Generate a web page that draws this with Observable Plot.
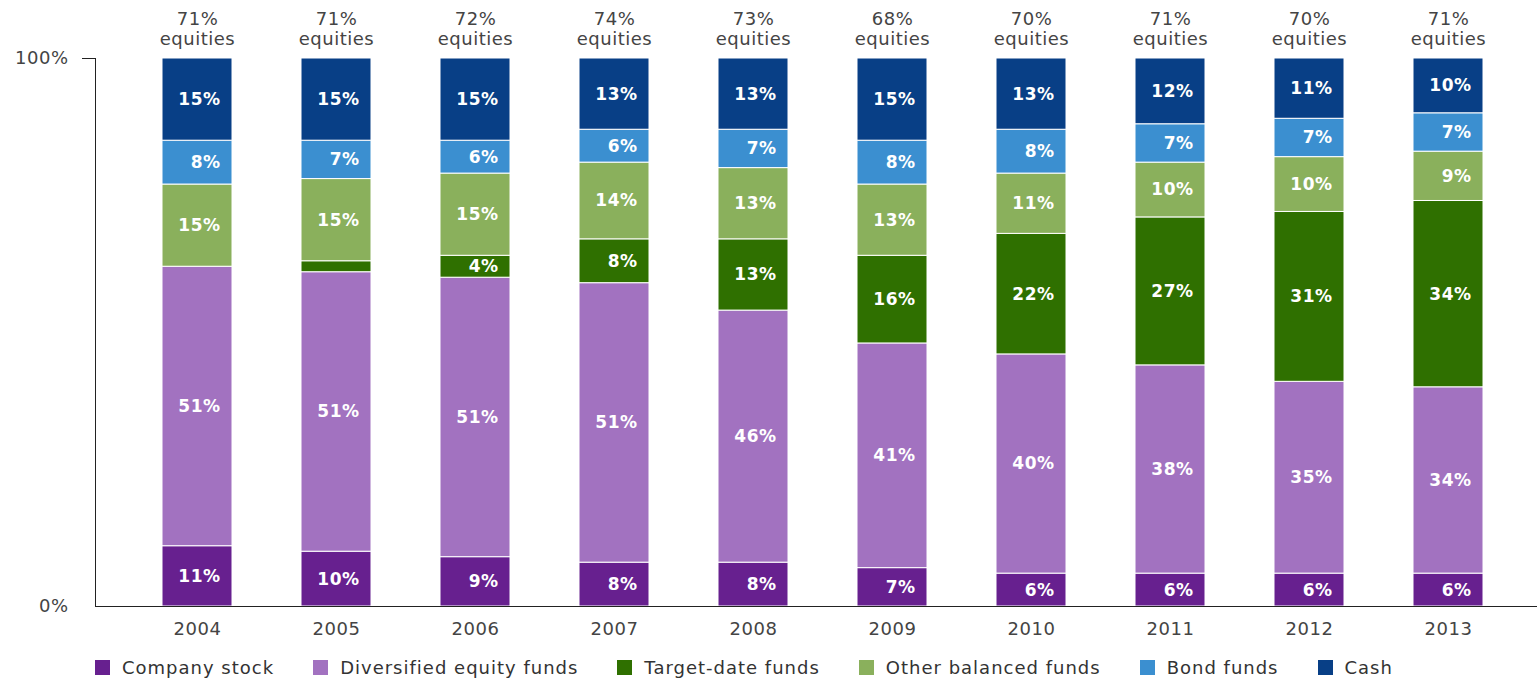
<!DOCTYPE html>
<html>
<head>
<meta charset="utf-8">
<script src="https://cdn.jsdelivr.net/npm/d3@7"></script>
<script src="https://cdn.jsdelivr.net/npm/@observablehq/plot@0.6"></script>
<style>
  html, body { margin: 0; padding: 0; background: #fff; }
  body { width: 1537px; height: 678px; overflow: hidden; font-family: "DejaVu Sans", sans-serif; }
  #chart svg text { letter-spacing: 0.5px; }
  #legend { display: flex; align-items: center; margin-left: 95px; margin-top: 4px; height: 30px; gap: 39px; font-size: 18px; letter-spacing: 1px; color: #333; }
  #legend .item { display: flex; align-items: center; white-space: nowrap; }
  #legend .sw { width: 15px; height: 15px; margin-right: 12px; display: inline-block; }
</style>
</head>
<body>
<div id="chart"></div>
<div id="legend"></div>
<script>
const years = ["2004","2005","2006","2007","2008","2009","2010","2011","2012","2013"];
const categories = ["Company stock", "Diversified equity funds", "Target-date funds", "Other balanced funds", "Bond funds", "Cash"];
const colors = ["#67208f", "#a272c0", "#2f7000", "#8ab05c", "#3b8fd0", "#083f86"];
const companyStock  = [11, 10,  9,  8,  8,  7,  6,  6,  6,  6];
const diversified   = [51, 51, 51, 51, 46, 41, 40, 38, 35, 34];
const targetDate    = [ 0,  2,  4,  8, 13, 16, 22, 27, 31, 34];
const otherBalanced = [15, 15, 15, 14, 13, 13, 11, 10, 10,  9];
const bondFunds     = [ 8,  7,  6,  6,  7,  8,  8,  7,  7,  7];
const cash          = [15, 15, 15, 13, 13, 15, 13, 12, 11, 10];
const equities      = [71, 71, 72, 74, 73, 68, 70, 71, 70, 71];

const series = [companyStock, diversified, targetDate, otherBalanced, bondFunds, cash];
const data = [];
years.forEach((year, i) => {
  categories.forEach((cat, j) => {
    data.push({year, cat, value: series[j][i]});
  });
});
const tops = years.map((year, i) => ({year, label: `${equities[i]}%\nequities`}));

const chart = Plot.plot({
  width: 1537,
  height: 648,
  marginLeft: 95,
  marginRight: 0,
  marginTop: 58,
  marginBottom: 42,
  style: {fontFamily: "DejaVu Sans", fontSize: "18px", color: "#444", background: "#fff"},
  x: {domain: years, range: [126, 1518], paddingInner: 0.497, paddingOuter: 0.2485, label: null},
  y: {domain: [0, 100], label: null},
  color: {domain: categories, range: colors},
  marks: [
    Plot.barY(data, Plot.stackY({x: "year", y: "value", z: "cat", fill: "cat", stroke: "#fff", strokeWidth: 1})),
    Plot.text(data, Plot.stackY({
      x: "year", y: "value", z: "cat",
      text: d => d.value >= 3 ? `${d.value}%` : "",
      fill: "#fff", fontWeight: "bold", fontSize: 17, textAnchor: "end", dx: 23
    })),
    Plot.text(tops, {x: "year", y: () => 100, text: "label", lineAnchor: "bottom", dy: -14, fill: "#444", fontSize: 18, lineHeight: 1.1}),
    Plot.frame({anchor: "left", stroke: "#222"}),
    Plot.ruleY([0], {stroke: "#222"}),
    Plot.axisY({ticks: [100], tickSize: 13, tickFormat: () => "", stroke: "#222"}),
    Plot.axisY({ticks: [0, 100], tickSize: 0, tickPadding: 27, tickFormat: d => `${d}%`, fill: "#444"}),
    Plot.axisX({tickSize: 0, tickPadding: 16, fill: "#444", label: null})
  ]
});
document.getElementById("chart").appendChild(chart);

const legend = document.getElementById("legend");
categories.forEach((cat, j) => {
  const item = document.createElement("span");
  item.className = "item";
  const sw = document.createElement("span");
  sw.className = "sw";
  sw.style.background = colors[j];
  item.appendChild(sw);
  item.appendChild(document.createTextNode(cat));
  legend.appendChild(item);
});
</script>
</body>
</html>
